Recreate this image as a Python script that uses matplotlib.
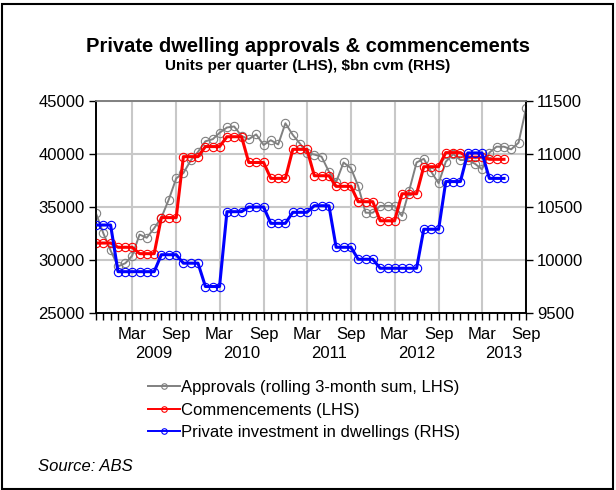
import matplotlib
matplotlib.use("Agg")
import matplotlib.pyplot as plt
import matplotlib.dates as mdates
from matplotlib.lines import Line2D
from matplotlib.patches import Rectangle
import pandas as pd

plt.rcParams['font.family'] = ['Liberation Sans', 'DejaVu Sans']

# Monthly observations, Oct 2008 .. Sep 2013
months = pd.date_range("2008-10-01", periods=60, freq="MS")

# Dwelling approvals, rolling 3-month sum (units)
approvals = [34400, 32500, 30900, 29400, 29700, 30400, 32400, 32100, 33000, 34000,
             35700, 37700, 38200, 39400, 40200, 41200, 41400, 42000, 42500, 42600,
             41700, 41400, 41850, 40850, 41300, 40900, 42900, 41800, 40950, 40070,
             39950, 39750, 38330, 37350, 39200, 38650, 36980, 34460, 34460, 35100,
             35100, 35100, 34150, 36550, 39200, 39550, 38330, 37240, 39270, 40000,
             39430, 39430, 39060, 38560, 40130, 40690, 40690, 40440, 41070, 44300]

# Quarterly commencements (units per quarter), shown against each month of the quarter
commencements = [31600, 31600, 31600, 31200, 31200, 31200, 30600, 30600, 30600,
                 34000, 34000, 34000, 39750, 39750, 39750, 40700, 40700, 40700,
                 41630, 41630, 41630, 39200, 39200, 39200, 37700, 37700, 37700,
                 40440, 40440, 40440, 37950, 37950, 37950, 36950, 36950, 36950,
                 35500, 35500, 35500, 33700, 33700, 33700, 36250, 36250, 36250,
                 38800, 38800, 38800, 40130, 40130, 40130, 39700, 39700, 39700,
                 39500, 39500, 39500]

# Private investment in dwellings ($bn chain volume), quarterly
investment = [10330, 10330, 10330, 9890, 9890, 9890, 9890, 9890, 9890,
              10050, 10050, 10050, 9970, 9970, 9970, 9750, 9750, 9750,
              10456, 10456, 10456, 10500, 10500, 10500, 10346, 10346, 10346,
              10450, 10450, 10450, 10512, 10512, 10512, 10120, 10120, 10120,
              10007, 10007, 10007, 9922, 9922, 9922, 9922, 9922, 9922,
              10290, 10290, 10290, 10740, 10740, 10740, 11010, 11010, 11010,
              10770, 10770, 10770]

years = ["2009", "2010", "2011", "2012", "2013"]
left_ticks = [25000, 30000, 35000, 40000, 45000]
right_ticks = [9500, 10000, 10500, 11000, 11500]

series_labels = ["Approvals (rolling 3-month sum, LHS)",
                 "Commencements (LHS)",
                 "Private investment in dwellings (RHS)"]

GRAY = "#808080"
RED = "#ff0000"
BLUE = "#0000ff"
GRID = "#c8c8c8"

fig = plt.figure(figsize=(6.16, 4.90), dpi=100)
ax = fig.add_axes([96 / 616, 1 - 313 / 490, 430 / 616, 212 / 490])
ax2 = ax.twinx()

mk = dict(marker="o", markersize=6, markerfacecolor="none", markeredgewidth=0.8)
ax.plot(months, approvals, color=GRAY, lw=1.4, markeredgecolor=GRAY, zorder=3, **mk)
ax.plot(months[:len(commencements)], commencements, color=RED, lw=2.2,
        markeredgecolor=RED, zorder=4, **mk)
ax2.plot(months[:len(investment)], investment, color=BLUE, lw=2.2,
         markeredgecolor=BLUE, zorder=4, **mk)

ax.set_xlim(months[0], months[-1])
ax.set_ylim(left_ticks[0], left_ticks[-1])
ax2.set_ylim(right_ticks[0], right_ticks[-1])
ax.set_yticks(left_ticks)
ax2.set_yticks(right_ticks)
ax.set_yticklabels([str(v) for v in left_ticks])
ax2.set_yticklabels([str(v) for v in right_ticks])

ax.xaxis.set_major_locator(mdates.MonthLocator(bymonth=[3, 9]))
ax.xaxis.set_major_formatter(mdates.DateFormatter("%b"))
ax.xaxis.set_minor_locator(mdates.MonthLocator())

ax.grid(True, axis="both", which="major", color=GRID, lw=1.5, zorder=0)
ax.set_axisbelow(True)

for a in (ax, ax2):
    a.tick_params(axis="both", which="both", direction="out", length=5,
                  width=1, color="black", labelsize=12, labelcolor="black")
ax.tick_params(axis="x", pad=5)
ax.tick_params(axis="y", pad=3)
ax2.tick_params(axis="y", pad=3)

for a in (ax, ax2):
    a.spines["left"].set_color("black")
    a.spines["bottom"].set_color("black")
    a.spines["right"].set_color("black")
    a.spines["top"].set_color(GRAY)
    for s in a.spines.values():
        s.set_linewidth(1.2)

# Year labels centred under each Mar-Sep pair
for yr in years:
    ax.text(pd.Timestamp(f"{yr}-06-01"), -0.19, yr, transform=ax.get_xaxis_transform(),
            ha="center", va="center", fontsize=12)

fig.text(0.5, 1 - 46 / 490, "Private dwelling approvals & commencements",
         ha="center", va="center", fontsize=14.5, fontweight="bold")
fig.text(0.5, 1 - 66 / 490, "Units per quarter (LHS), $bn cvm (RHS)",
         ha="center", va="center", fontsize=11, fontweight="bold")

handles = [Line2D([], [], color=c, lw=1.4, marker="o", markersize=4,
                  markerfacecolor="none", markeredgewidth=0.8)
           for c in (GRAY, RED, BLUE)]
fig.legend(handles, series_labels, loc="upper left",
           bbox_to_anchor=(148 / 616, 1 - 380 / 490), frameon=False, fontsize=12,
           handlelength=1.9, handletextpad=0.1, labelspacing=0.45,
           borderpad=0, borderaxespad=0)

fig.text(38 / 616, 1 - 466 / 490, "Source: ABS", ha="left", va="center",
         fontsize=12, style="italic")

fig.patches.append(Rectangle((1.5 / 616, 1.5 / 490), 611 / 616, 484 / 490,
                             transform=fig.transFigure, fill=False,
                             edgecolor="black", lw=1.5))

fig.savefig("out.png", dpi=100)
